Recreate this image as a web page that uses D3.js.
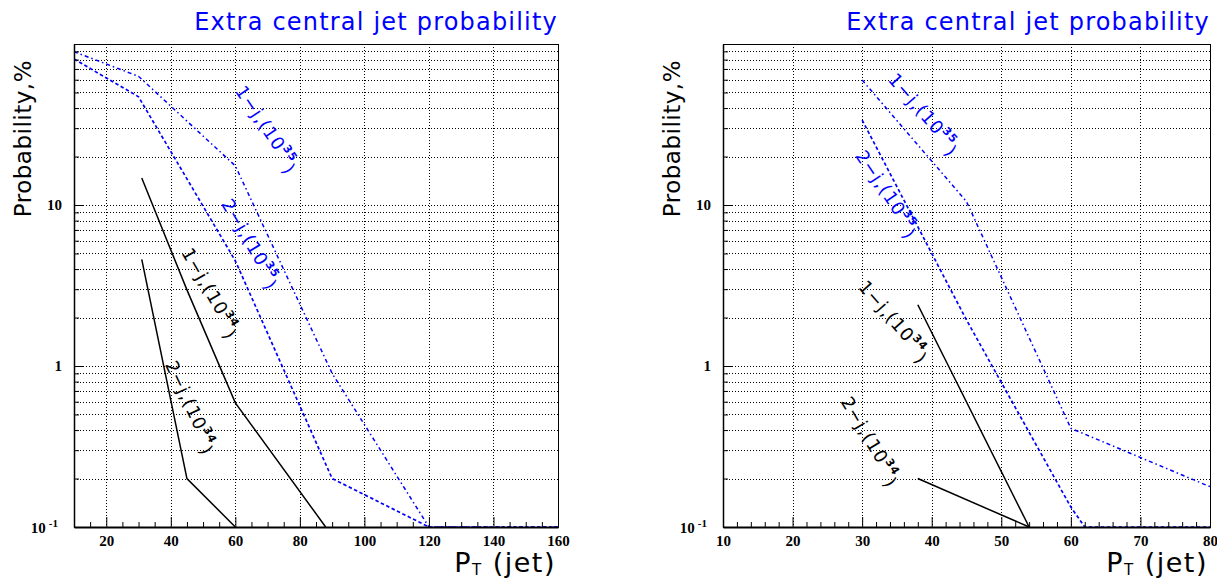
<!DOCTYPE html>
<html>
<head>
<meta charset="utf-8">
<script src="https://cdn.jsdelivr.net/npm/d3@7"></script>
<style>
	body { margin: 0; background: #fff; }
	.tick text { font-family: "Liberation Serif", serif; font-weight: bold; font-size: 15px; fill: #000; }
	.label { font-family: "DejaVu Sans", sans-serif; }
</style>
</head>
<body>
<div id="chart"></div>
<script>

// tick labels
const leftXTicks = [20, 40, 60, 80, 100, 120, 140, 160];
const rightXTicks = [10, 20, 30, 40, 50, 60, 70, 80];
const yLabelTicks = [0.1, 1, 10];

// left panel, P_T (jet) vs probability in %
const leftPt1j35 = [10, 30, 60, 90, 120, 160];
const leftProb1j35 = [89.6, 63, 17.5, 0.9, 0.1, 0.1];
const leftPt2j35 = [10, 30, 60, 90, 120, 160];
const leftProb2j35 = [80.7, 47, 4.5, 0.2, 0.1, 0.1];
const leftPt1j34 = [31, 45, 60, 88];
const leftProb1j34 = [14.7, 2.97, 0.59, 0.1];
const leftPt2j34 = [31, 45, 60];
const leftProb2j34 = [4.6, 0.2, 0.1];

// right panel
const rightPt1j35 = [30, 45, 60, 80];
const rightProb1j35 = [59.7, 10.5, 0.41, 0.178];
const rightPt2j35 = [30, 45, 60, 62, 80];
const rightProb2j35 = [33.7, 1.93, 0.133, 0.1, 0.1];
const rightPt1j34 = [38, 54];
const rightProb1j34 = [2.4, 0.1];
const rightPt2j34 = [38, 54];
const rightProb2j34 = [0.2, 0.1];

// curve labels, placed at (pT, prob) and turned by angle
const leftNotes = [
	{ text: '1−j,(10', sup: '35', pt: 70.0, prob: 29.8, angle: 56, color: '#0000ff' },
	{ text: '2−j,(10', sup: '35', pt: 65.0, prob: 5.77, angle: 59.5, color: '#0000ff' },
	{ text: '1−j,(10', sup: '34', pt: 52.6, prob: 2.86, angle: 60, color: '#000' },
	{ text: '2−j,(10', sup: '34', pt: 46.4, prob: 0.556, angle: 65, color: '#000' }
];
const rightNotes = [
	{ text: '1−j,(10', sup: '35', pt: 39.0, prob: 37.0, angle: 49, color: '#0000ff' },
	{ text: '2−j,(10', sup: '35', pt: 33.7, prob: 11.8, angle: 56, color: '#0000ff' },
	{ text: '1−j,(10', sup: '34', pt: 34.7, prob: 1.91, angle: 49, color: '#000' },
	{ text: '2−j,(10', sup: '34', pt: 31.3, prob: 0.342, angle: 59, color: '#000' }
];

const width = 1217, height = 578;
const plotTop = 44, plotBottom = 527;

const svg = d3.select('#chart')
	.append('svg')
		.attr('width', width)
		.attr('height', height);

function series(pts, probs, style) {
	return Object.assign({ values: pts.map((p, i) => ({ pt: p, prob: probs[i] })) }, style);
}

const blueDashDot = { color: '#0000ff', dash: '4,3,1.5,3', w: 1.5 };
const blueDash = { color: '#0000ff', dash: '3.5,2.5', w: 1.7 };
const black = { color: '#000', dash: null, w: 1.5 };

drawPanel({
	left: 74, right: 558,
	xDomain: [10, 160], majors: leftXTicks, labels: leftXTicks, minorStep: 5,
	series: [
		series(leftPt1j35, leftProb1j35, blueDashDot),
		series(leftPt2j35, leftProb2j35, blueDash),
		series(leftPt1j34, leftProb1j34, black),
		series(leftPt2j34, leftProb2j34, black)
	],
	notes: leftNotes
});

drawPanel({
	left: 723, right: 1210,
	xDomain: [10, 80], majors: rightXTicks, labels: rightXTicks, minorStep: 2,
	series: [
		series(rightPt1j35, rightProb1j35, blueDashDot),
		series(rightPt2j35, rightProb2j35, blueDash),
		series(rightPt1j34, rightProb1j34, black),
		series(rightPt2j34, rightProb2j34, black)
	],
	notes: rightNotes
});

function drawPanel(p) {

	const x = d3.scaleLinear().domain(p.xDomain).range([p.left, p.right]);
	const y = d3.scaleLog().domain([0.1, 100]).range([plotBottom, plotTop]);
	const g = svg.append('g');

	// grid
	const yMinor = [];
	[0.1, 1, 10].forEach(d => d3.range(1, 10).forEach(m => yMinor.push(+(m * d).toPrecision(3))));
	const yGrid = yMinor.filter(v => v > 0.1 && v < 100);

	g.append('g').selectAll('line')
		.data(yGrid).enter()
		.append('line')
			.attr('x1', p.left).attr('x2', p.right)
			.attr('y1', d => Math.round(y(d)) + 0.5).attr('y2', d => Math.round(y(d)) + 0.5)
			.attr('stroke', '#000').attr('stroke-width', 1)
			.attr('stroke-dasharray', '1,2');

	g.append('g').selectAll('line')
		.data(p.majors.filter(v => v > p.xDomain[0] && v < p.xDomain[1])).enter()
		.append('line')
			.attr('x1', d => Math.round(x(d)) + 0.5).attr('x2', d => Math.round(x(d)) + 0.5)
			.attr('y1', plotTop).attr('y2', plotBottom)
			.attr('stroke', '#000').attr('stroke-width', 1)
			.attr('stroke-dasharray', '1,2');

	// curves
	const clip = 'clip' + p.left;
	svg.append('clipPath').attr('id', clip)
		.append('rect')
			.attr('x', p.left).attr('y', plotTop)
			.attr('width', p.right - p.left).attr('height', plotBottom - plotTop + 1);

	const line = d3.line()
		.x(d => x(d.pt))
		.y(d => y(Math.max(d.prob, 0.1)));

	g.append('g').attr('clip-path', `url(#${clip})`)
		.selectAll('path')
		.data(p.series).enter()
		.append('path')
			.attr('d', d => line(d.values))
			.attr('fill', 'none')
			.attr('stroke', d => d.color)
			.attr('stroke-width', d => d.w)
			.attr('stroke-dasharray', d => d.dash);

	// frame
	g.append('rect')
		.attr('x', p.left + 0.5).attr('y', plotTop + 0.5)
		.attr('width', p.right - p.left).attr('height', plotBottom - plotTop)
		.attr('fill', 'none').attr('stroke', '#000').attr('stroke-width', 1);

	// x axis
	const xAxis = d3.axisBottom(x)
		.tickValues(p.labels)
		.tickSizeInner(-10).tickSizeOuter(0).tickPadding(8)
		.tickFormat(d3.format('d'));

	const xg = g.append('g')
		.attr('transform', `translate(0, ${plotBottom})`)
		.call(xAxis);
	xg.select('.domain').attr('stroke-width', 2);

	const xMinor = d3.range(p.xDomain[0], p.xDomain[1] + 0.001, p.minorStep)
		.filter(v => p.majors.indexOf(v) < 0);
	g.append('g')
		.attr('transform', `translate(0, ${plotBottom})`)
		.call(d3.axisBottom(x).tickValues(xMinor).tickSizeInner(-5).tickSizeOuter(0).tickFormat(''))
		.select('.domain').remove();

	// y axis
	const yg = g.append('g')
		.attr('transform', `translate(${p.left}, 0)`)
		.call(d3.axisLeft(y).tickValues(yLabelTicks).tickSizeInner(-10).tickSizeOuter(0).tickPadding(12)
			.tickFormat(d => d === 0.1 ? '' : d3.format('d')(d)));
	yg.select('.domain').attr('stroke-width', 1.5);

	yg.selectAll('.tick').filter(d => d === 0.1).select('text')
		.attr('x', -16)
		.attr('y', 1)
		.call(t => {
			t.append('tspan').text('10');
			t.append('tspan').attr('font-size', '11px').attr('dy', '-0.6em').attr('dx', '3').text('-1');
		});

	g.append('g')
		.attr('transform', `translate(${p.left}, 0)`)
		.call(d3.axisLeft(y).tickValues(yMinor.filter(v => yLabelTicks.indexOf(v) < 0 && v < 100))
			.tickSizeInner(-5).tickSizeOuter(0).tickFormat(''))
		.select('.domain').remove();

	// titles
	g.append('text')
		.attr('class', 'label')
		.attr('x', p.right).attr('y', 30)
		.attr('text-anchor', 'end')
		.attr('font-size', 24)
		.attr('letter-spacing', 1.2)
		.attr('fill', '#0000ff')
		.text('Extra central jet probability');

	g.append('text')
		.attr('class', 'label')
		.attr('transform', `translate(${p.left - 43}, 60) rotate(-90)`)
		.attr('text-anchor', 'end')
		.attr('font-size', 23)
		.attr('letter-spacing', 0.5)
		.text('Probability,%');

	const xt = g.append('text')
		.attr('class', 'label')
		.attr('x', p.right - 2).attr('y', 572)
		.attr('text-anchor', 'end')
		.attr('font-size', 27)
		.attr('letter-spacing', 1.5);
	xt.append('tspan').text('P');
	xt.append('tspan').attr('font-size', 15).attr('dy', 3).text('T');
	xt.append('tspan').attr('dy', -3).text(' (jet)');

	// curve notes
	p.notes.forEach(n => {
		const t = g.append('text')
			.attr('class', 'label')
			.attr('transform', `translate(${x(n.pt)}, ${y(n.prob)}) rotate(${n.angle})`)
			.attr('text-anchor', 'middle')
			.attr('dy', '0.35em')
			.attr('font-size', 18)
			.attr('letter-spacing', 1)
			.attr('fill', n.color);
		t.append('tspan').text(n.text);
		t.append('tspan').attr('font-size', 11).attr('font-weight', 'bold').attr('dy', '-0.7em').text(n.sup);
		t.append('tspan').attr('dy', '0.7em').text(')');
	});

}

</script>
</body>
</html>
